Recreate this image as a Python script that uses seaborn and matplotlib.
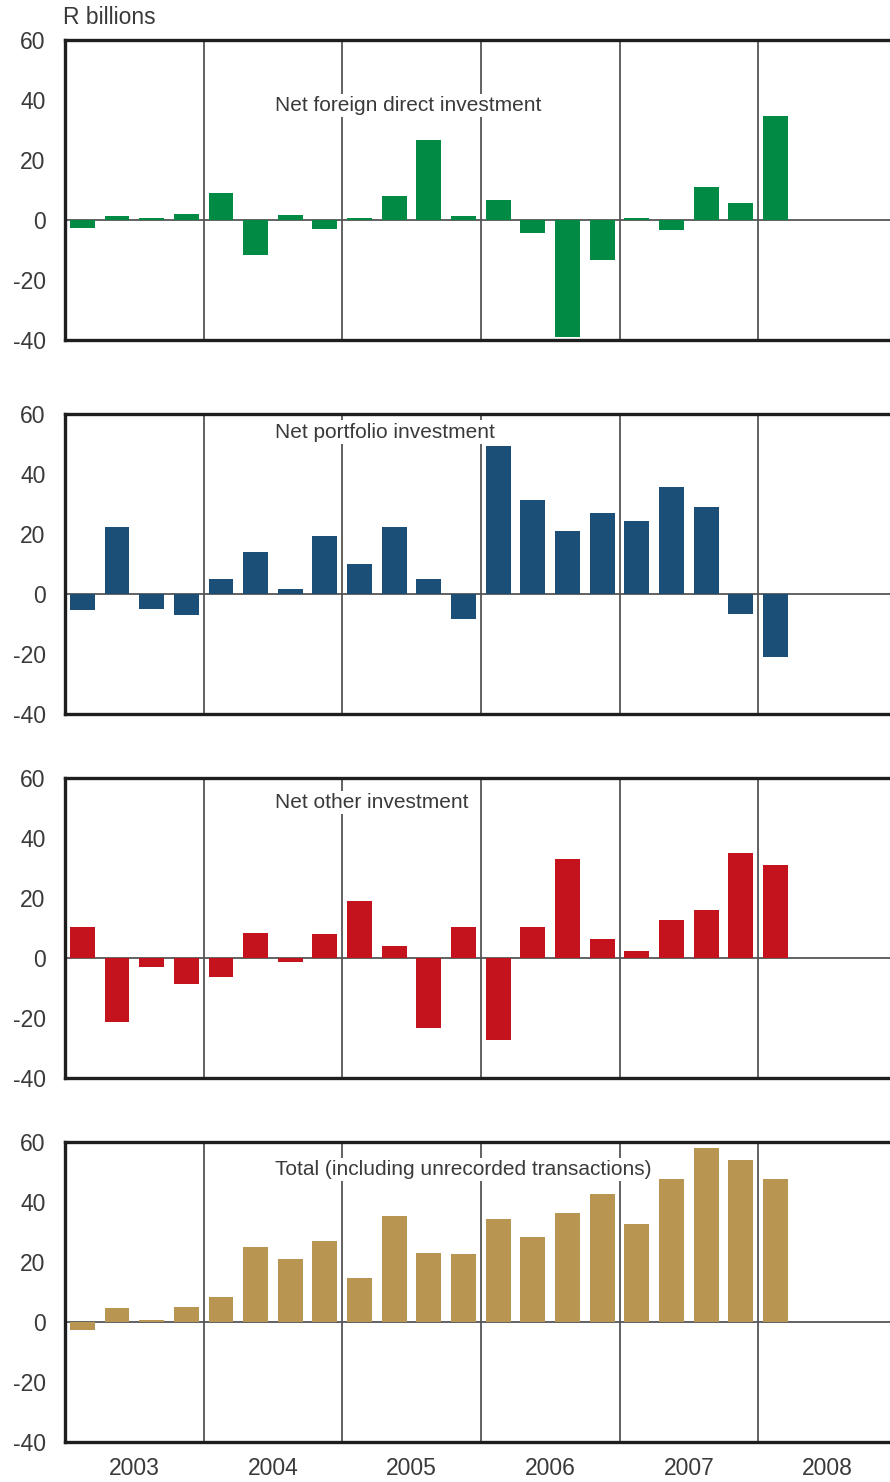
import numpy as np
import pandas as pd
import seaborn as sns
from matplotlib import pyplot as plt

# ------- data (R billions, quarterly 2003Q1 - 2008Q1) -------
years = ["2003", "2004", "2005", "2006", "2007", "2008"]
quarters = [f"{y}Q{q}" for y in years[:-1] for q in range(1, 5)] + ["2008Q1"]

fdi = [-2.5, 1.3, 0.7, 2.0, 9.0, -11.7, 1.7, -3.0, 0.7, 8.0, 26.7, 1.3,
       6.7, -4.3, -39.0, -13.3, 0.7, -3.3, 11.0, 5.7, 34.7]
portfolio = [-5.2, 22.4, -4.9, -6.9, 5.1, 14.1, 1.8, 19.4, 10.1, 22.4, 5.1, -8.2,
             49.4, 31.4, 21.1, 27.1, 24.4, 35.8, 29.1, -6.6, -20.9]
other = [10.2, -21.4, -3.1, -8.8, -6.4, 8.2, -1.4, 7.9, 18.9, 3.9, -23.4, 10.2,
         -27.4, 10.2, 32.9, 6.2, 2.2, 12.6, 15.9, 34.9, 30.9]
total = [-2.6, 4.8, 0.8, 5.1, 8.4, 25.1, 21.1, 27.1, 14.8, 35.4, 23.1, 22.8,
         34.4, 28.4, 36.4, 42.7, 32.7, 47.7, 58.1, 54.1, 47.7]

titles = ["Net foreign direct investment", "Net portfolio investment",
          "Net other investment", "Total (including unrecorded transactions)"]
series = [fdi, portfolio, other, total]
colours = ["#008a44", "#1b4f78", "#c4131c", "#b89652"]
title_y = [38.3, 54.0, 51.7, 50.7]

# -------------------------------------------------------------

sns.set_style("white")
plt.rcParams['font.family'] = ['Liberation Sans', 'DejaVu Sans']
plt.rcParams['axes.unicode_minus'] = False
txt = "#3a3a3a"

W, H = 890, 1482
fig = plt.figure(figsize=(W / 100, H / 100), dpi=100)

tops = [40, 414, 778, 1142]
left, right = 65, 890
height = 300

for i in range(4):
    ax = fig.add_axes([left / W, 1 - (tops[i] + height) / H, (right - left) / W, height / H])
    df = pd.DataFrame({"quarter": quarters, "value": series[i]})
    sns.barplot(data=df, x="quarter", y="value", color=colours[i], saturation=1,
                width=0.72, ax=ax, zorder=3, linewidth=0, edgecolor="none")
    ax.set_xlim(-0.5, 23.3)
    ax.set_ylim(-40, 60)
    ax.set_yticks([-40, -20, 0, 20, 40, 60])
    ax.set_xlabel("")
    ax.set_ylabel("")

    # year separators and zero line
    for xv in [3.5, 7.5, 11.5, 15.5, 19.5]:
        ax.axvline(xv, color="#555555", lw=1.3, zorder=1)
    ax.axhline(0, color="#555555", lw=1.3, zorder=2)

    ax.text(5.56, title_y[i], titles[i], fontsize=15, color=txt, va="center", ha="left",
            zorder=4, bbox=dict(facecolor="white", edgecolor="none", pad=1.5))

    for s in ["left", "bottom", "top"]:
        ax.spines[s].set_visible(True)
        ax.spines[s].set_color("#1e1e1e")
        ax.spines[s].set_linewidth(2.4)
        ax.spines[s].set_zorder(5)
    ax.spines["right"].set_visible(False)

    ax.tick_params(axis="y", direction="in", length=15, width=2.2, color="#1e1e1e",
                   labelsize=16.5, labelcolor=txt, pad=14)
    if i == 3:
        ax.set_xticks([1.5, 5.5, 9.5, 13.5, 17.5, 21.5])
        ax.set_xticklabels(years)
        ax.tick_params(axis="x", length=0, labelsize=16.5, labelcolor=txt, pad=11)
    else:
        ax.set_xticks([])

fig.text(63 / W, 1 - 18 / H, "R billions", fontsize=16.5, color=txt, va="center", ha="left")

plt.savefig("out.png", dpi=100)
